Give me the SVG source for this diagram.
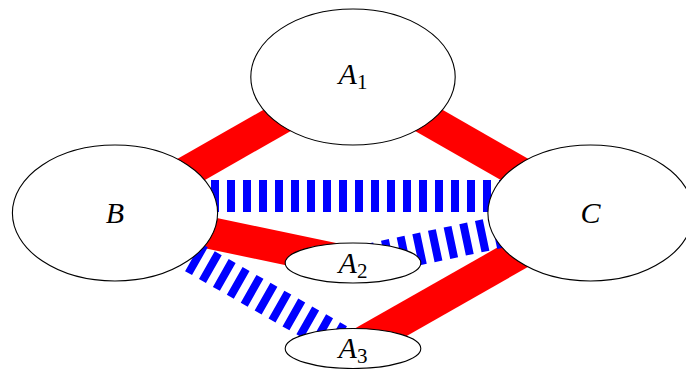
<svg xmlns="http://www.w3.org/2000/svg" width="686" height="369" viewBox="0 0 686 369">
<style>
.node ellipse{fill:#fff;stroke:#000;stroke-width:1.1}
.lbl{font-family:"Liberation Serif","DejaVu Serif",serif;font-style:italic;font-size:30px;fill:#000;text-anchor:middle}
.sub{font-style:normal;font-size:21px}
.red{stroke:#ff0000;stroke-width:32;fill:none}
.blue{stroke:#0000ff;stroke-width:32;fill:none;stroke-dasharray:8 8}
</style>
<rect width="686" height="369" fill="#fff"/>
<g id="connectors">
<line class="red" x1="115" y1="213" x2="353" y2="77"/>
<line class="red" x1="353" y1="77" x2="590.5" y2="213"/>
<line class="red" x1="115" y1="213" x2="353" y2="263"/>
<line class="red" x1="590.5" y1="213" x2="353" y2="348"/>
<line class="blue" x1="115" y1="196" x2="590.5" y2="196"/>
<line class="blue" x1="353" y1="263" x2="590.5" y2="213"/>
<line class="blue" x1="353" y1="348" x2="115" y2="213"/>
</g>
<g id="A1" class="node"><ellipse cx="353" cy="77" rx="102.2" ry="68"/><text class="lbl" x="353" y="83.5">A<tspan class="sub" dy="5">1</tspan></text></g>
<g id="B" class="node"><ellipse cx="115" cy="213" rx="102.6" ry="68"/><text class="lbl" x="115" y="223">B</text></g>
<g id="C" class="node"><ellipse cx="590.5" cy="213" rx="102.6" ry="68"/><text class="lbl" x="590.5" y="223">C</text></g>
<g id="A2" class="node"><ellipse cx="353" cy="263" rx="67.8" ry="20"/><text class="lbl" x="353" y="273">A<tspan class="sub" dy="5">2</tspan></text></g>
<g id="A3" class="node"><ellipse cx="353" cy="348.5" rx="67.8" ry="20"/><text class="lbl" x="353" y="358">A<tspan class="sub" dy="5">3</tspan></text></g>
</svg>
